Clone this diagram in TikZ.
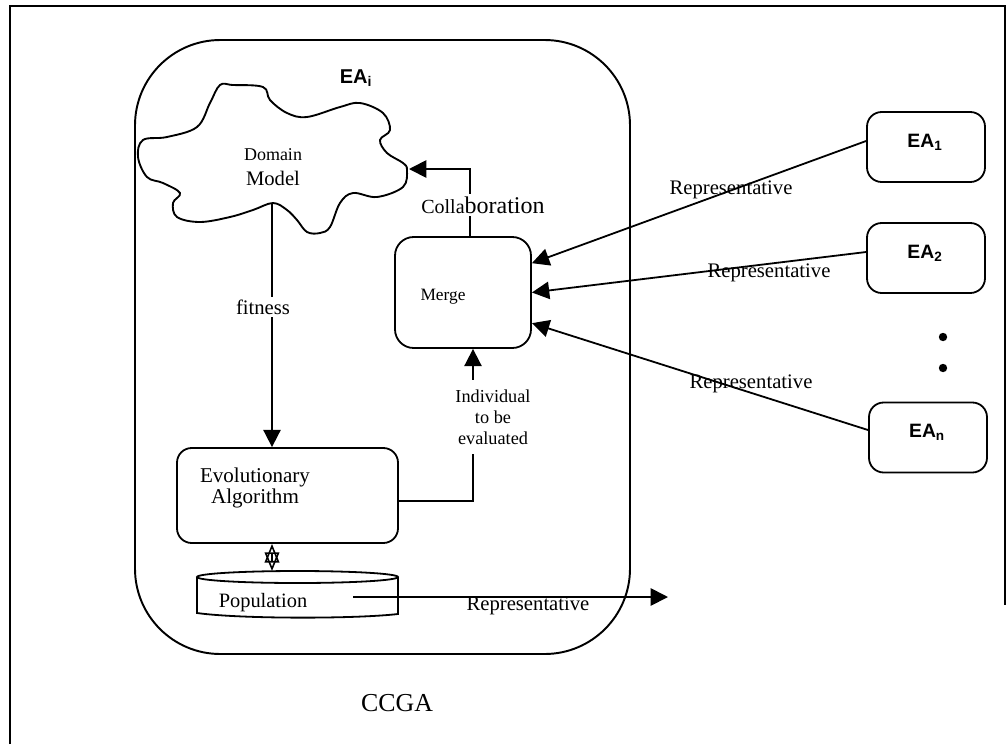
\documentclass[tikz,border=0pt]{standalone}
\usepackage{fontspec}
\setmainfont{Liberation Serif}
\setsansfont{Liberation Sans}
\usetikzlibrary{arrows.meta}
\newcommand\fsz[2]{\fontsize{#1}{#2}\selectfont}
\begin{document}
\begin{tikzpicture}[x=0.75pt,y=-0.75pt,
  line width=1.35pt,
  box/.style={draw,rounded corners=11pt,inner sep=0pt},
  tip/.style={-{Triangle[length=13pt,width=13pt]}},
  eatext/.style={font=\sffamily\bfseries\fsz{14.5}{16}},
  rep/.style={font=\fsz{15.5}{17},inner sep=0pt}]
\useasboundingbox (0,0) rectangle (1008,744);

% page frame (open at the bottom)
\draw[line width=1.5pt] (10,744) -- (10,6) -- (1005,6) -- (1005,605);

% the island EA_i
\node[draw, rounded corners=64pt, minimum width=371.25pt, minimum height=460.5pt,
      inner sep=0pt, line width=1.45pt] (eai) at (382.5,347) {};
\node[eatext, font=\sffamily\bfseries\fsz{15}{16}] (eaititle) at (356,78) {EA\textsubscript{i}};

% domain model cloud
\draw[line width=1.4pt] plot[smooth cycle, tension=0.6] coordinates {
  (138,157) (143,140) (167,137) (197,127) (210,103) (220,85) (233,85)
  (263,87) (270,100) (287,113) (307,117) (340,107) (360,103) (383,113)
  (390,130) (380,140) (387,153) (403,163) (407,170) (403,187) (377,197)
  (353,193) (340,203) (330,227) (320,233) (307,232) (297,220) (287,210)
  (273,203) (253,210) (230,217) (200,222) (177,217) (173,203) (180,193)
  (163,183) (147,177)};
\coordinate (cloudtip) at (409,169);
\coordinate (cloudbot) at (272,204);
\node[font=\fsz{13.5}{15}] (dom) at (273,155) {Domain};
\node[font=\fsz{15.5}{17}] (mod) at (273,178) {Model};

% evolutionary algorithm
\node[box, minimum width=165.75pt, minimum height=71.25pt] (ea) at (287.5,495.5) {};
\node[font=\fsz{15.8}{15.75}, align=center] (ealbl) at (255,487.5) {Evolutionary\\Algorithm};

% merge
\node[box, rounded corners=14pt, minimum width=102pt, minimum height=83.25pt] (merge) at (463,292.5) {};
\node[font=\fsz{13}{15}] (mergelbl) at (443,297) {Merge};

% population store
\draw (297.5,577) ellipse [x radius=100.5, y radius=6];
\draw (197,577) -- (197,613) .. controls (240,619) and (355,619) .. (398,614) -- (398,577);
\node[font=\fsz{15.3}{17}] (pop) at (263,603) {Population};
\coordinate (poptop) at (272,571);
\coordinate (popout) at (353,597);
\coordinate (repend) at (668,597);

% other islands
\node[box, minimum width=88.5pt, minimum height=52.5pt] (ea1) at (926,147) {};
\node[eatext] at (925,142) {EA\textsubscript{1}};
\node[box, minimum width=88.5pt, minimum height=52.5pt] (ea2) at (926,258) {};
\node[eatext] at (925,253) {EA\textsubscript{2}};
\node[box, minimum width=88.5pt, minimum height=52.5pt] (ean) at (928,437.5) {};
\node[eatext] at (927,432) {EA\textsubscript{n}};
\fill (943,337) circle[radius=4.2];
\fill (943,368) circle[radius=4.2];

% fitness
\draw[tip] (cloudbot) -- (cloudbot |- ea.north);
\node[fill=white, inner sep=2pt, font=\fsz{15.5}{17}] at (263,307) {fitness};

% collaboration
\draw[tip] ([xshift=5.25pt]merge.north) |- (cloudtip);
\node[fill=white, inner sep=2pt] at (483,205) {{\fsz{15}{17}Colla}{\fsz{18}{20}boration}};

% individual to be evaluated
\draw[tip] ([yshift=-4.1pt]ea.east) -| ([xshift=7.5pt]merge.south);
\node[fill=white, align=center, font=\fsz{13.7}{15.75}, inner xsep=2pt, inner ysep=7pt]
  at (493,417) {Individual\\to be\\evaluated};

% between algorithm and population
\draw[line width=1.2pt,
  {Triangle[open,length=14pt,width=11pt]}-{Triangle[open,length=14pt,width=11pt]}]
  (ea.south -| poptop) -- (poptop);

% representatives
\draw[tip] (popout) -- (repend);
\node[rep] at (528,606) {Representative};
\draw[tip] ([yshift=4.5pt]ea1.west) -- ([yshift=22pt]merge.east);
\node[rep] at (731,190) {Representative};
\draw[tip] ([yshift=4.5pt]ea2.west) -- (merge.east);
\node[rep] at (769,273) {Representative};
\draw[tip] ([yshift=5.6pt]ean.west) -- ([yshift=-23pt]merge.east);
\node[rep] at (751,384) {Representative};

% caption
\node[font=\fsz{19.4}{22}] (ccga) at (397,703) {CCGA};
\end{tikzpicture}
\end{document}
